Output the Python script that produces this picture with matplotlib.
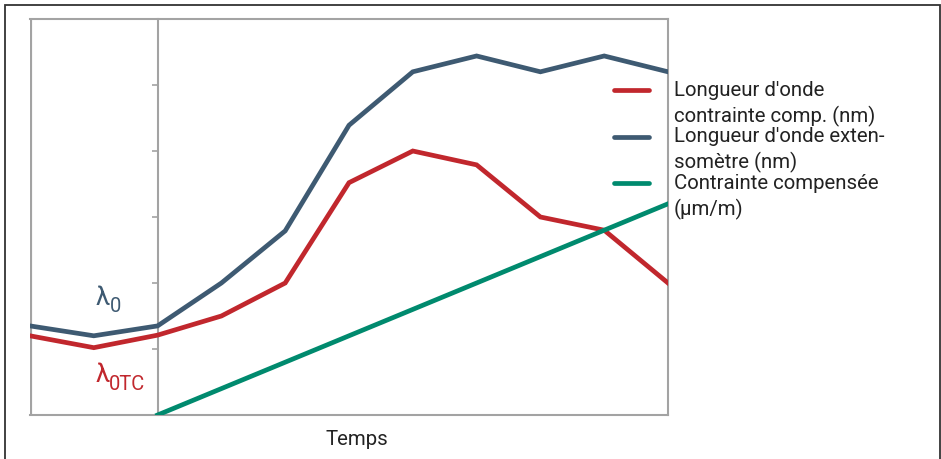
import matplotlib
matplotlib.use("Agg")
import matplotlib.pyplot as plt
from matplotlib.lines import Line2D
from matplotlib.patches import Rectangle

plt.rcParams['font.family'] = ['Roboto', 'DejaVu Sans']

# ── data ──────────────────────────────────────────────────────────────────────

steps        = list(range(11))
wl_comp      = [1.2, 1.02, 1.21, 1.5, 2.0, 3.52, 4.0, 3.79, 3.0, 2.8, 2.0]
wl_gauge     = [1.35, 1.2, 1.35, 2.0, 2.79, 4.39, 5.2, 5.44, 5.2, 5.44, 5.2]
strain_steps = list(range(2, 11))
strain_comp  = [0.0, 0.4, 0.8, 1.2, 1.6, 2.0, 2.4, 2.8, 3.2]
ytick_pos    = [1, 2, 3, 4, 5]

labels = [
    ("Longueur d'onde", "contrainte comp. (nm)"),
    ("Longueur d'onde exten-", "somètre (nm)"),
    ("Contrainte compensée", "(µm/m)"),
]

RED   = '#c1272d'
BLUE  = '#3e5a72'
GREEN = '#008a6e'
GRID  = '#a3a3a3'
TEXT  = '#222222'

W, H = 941, 460
FS = 14.7


def fx(px):
    return px / W


def fy(py):
    return 1 - py / H


# ── plot ──────────────────────────────────────────────────────────────────────

fig = plt.figure(figsize=(W / 100, H / 100), dpi=100)
ax = fig.add_axes([fx(30), fy(416), fx(668) - fx(30), fy(20) - fy(416)])

lw = 3.4
ax.plot(steps, wl_comp, color=RED, lw=lw, solid_joinstyle='miter', zorder=3)
ax.plot(steps, wl_gauge, color=BLUE, lw=lw, solid_joinstyle='miter', zorder=3)
ax.plot(strain_steps, strain_comp, color=GREEN, lw=lw, zorder=4)

ax.set_xlim(0, 10)
ax.set_ylim(0, 6)

for side in ['top', 'bottom', 'right', 'left']:
    ax.spines[side].set_color(GRID)
    ax.spines[side].set_linewidth(1.5)
ax.spines['left'].set_position(('data', 2))
ax.axvline(0, color=GRID, lw=3.0, zorder=1)

ax.set_xticks([])
ax.set_yticks(ytick_pos)
ax.set_yticklabels([])
ax.tick_params(axis='y', direction='out', length=4.5, width=1.2, color=GRID)

# lambda annotations (symbol + subscript as separate texts)
fig.text(fx(96), fy(305), 'λ', color=BLUE, fontsize=18.5, va='baseline')
fig.text(fx(110), fy(312), '0', color=BLUE, fontsize=14.5, va='baseline')
fig.text(fx(96), fy(382), 'λ', color=RED, fontsize=18.5, va='baseline')
fig.text(fx(108.5), fy(390), '0TC', color=RED, fontsize=14.5, va='baseline')

# x label
fig.text(fx(357), fy(445), 'Temps', color=TEXT, fontsize=FS,
         ha='center', va='baseline')

# legend drawn by hand so the handle lines up with the first text line
for i, (color, (line1, line2)) in enumerate(zip([RED, BLUE, GREEN], labels)):
    y0 = 96 + i * 46.5
    fig.add_artist(Line2D([fx(614), fx(649)], [fy(y0 - 5), fy(y0 - 5)],
                          color=color, lw=lw, solid_capstyle='round'))
    fig.text(fx(674), fy(y0), line1, color=TEXT, fontsize=FS, va='baseline')
    fig.text(fx(674), fy(y0 + 26), line2, color=TEXT, fontsize=FS,
             va='baseline')

# outer frame
fig.add_artist(Rectangle((fx(5), fy(470)), fx(940) - fx(5), fy(6) - fy(470),
                         transform=fig.transFigure, fill=False,
                         edgecolor='#333333', lw=1.3, clip_on=False))

fig.savefig('out.png', dpi=100)
